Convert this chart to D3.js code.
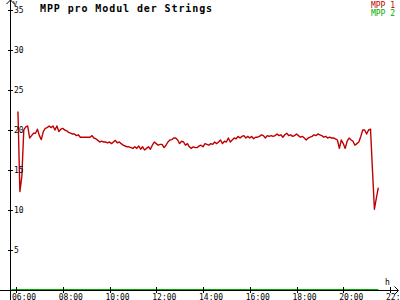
<!DOCTYPE html>
<html>
<head>
<meta charset="utf-8">
<script src="https://cdn.jsdelivr.net/npm/d3@7"></script>
<style>
  body { margin: 0; background: #fff; }
  svg { display: block; }
  text { font-family: "DejaVu Sans Mono", "Liberation Mono", monospace; }
</style>
</head>
<body>
<svg width="400" height="300"></svg>
<script>
// MPP 1 readings, one every 5 minutes from 06:05
const mpp1Start = "06:05";
const stepMinutes = 5;
const mpp1Values = [
  22.3, 12.3, 14.2, 20.0, 20.4, 20.5, 19.0, 19.3, 19.6, 19.6,
  20.1, 19.3, 18.8, 19.8, 20.2, 20.3, 20.5, 20.3, 20.5, 20.0,
  20.5, 19.8, 20.1, 20.2, 20.0, 19.9, 19.7, 19.6, 19.5, 19.5,
  19.3, 19.4, 19.1, 19.1, 19.1, 19.1, 19.1, 19.1, 19.3, 19.0, 18.9,
  18.7, 18.5, 18.6, 18.5, 18.5, 18.4, 18.5, 18.3, 18.5, 18.7,
  18.4, 18.5, 18.3, 18.1, 18.0, 17.9, 17.9, 17.8, 17.7, 17.9,
  17.7, 18.0, 17.6, 17.9, 17.5, 17.7, 17.9, 17.6, 18.1, 18.5,
  18.3, 18.1, 18.2, 18.2, 17.8, 18.1, 18.5, 18.75, 18.8, 19.0,
  19.0, 18.75, 18.3, 18.6, 18.5, 18.1, 18.3, 17.9, 17.7, 17.9, 17.8,
  17.8, 18.0, 18.1, 17.9, 18.3, 18.2, 18.1, 18.3, 18.2, 18.5,
  18.3, 18.5, 18.75, 18.3, 18.6, 18.5, 19.0, 18.5, 18.75, 19.0,
  18.9, 19.2, 19.0, 19.2, 19.3, 19.0, 19.2, 19.0, 19.2, 18.9,
  19.1, 19.1, 19.2, 19.4, 19.3, 19.0, 19.3, 19.2, 19.3, 19.2, 19.3,
  19.5, 19.3, 19.4, 19.1, 19.4, 19.6, 19.3, 19.4, 19.2, 19.3,
  19.5, 19.3, 19.1, 19.2, 19.0, 18.75, 19.0, 19.1, 19.2, 19.4,
  19.3, 19.5, 19.4, 19.3, 19.1, 19.2, 19.0, 19.1, 19.0, 19.0, 18.9,
  18.75, 17.7, 18.75, 18.3, 17.7, 18.6, 19.0, 18.75, 18.6, 18.1,
  18.3, 18.5, 19.2, 20.0, 20.0, 19.5, 20.0, 20.1, 15.0, 10.1,
  11.5, 12.8
];

// MPP 2 stays at zero all day
const mpp2Times = ["05:48", "21:30"];
const mpp2Values = [0, 0];

const yTicks = [5, 10, 15, 20, 25, 30, 35];
const xTickHours = [6, 8, 10, 12, 14, 16, 18, 20, 22];
const seriesNames = ["MPP 1", "MPP 2"];
const seriesColors = ["#c00000", "#00aa00"];

const parseTime = d3.timeParse("%H:%M");
const day = t => parseTime(t);

const mpp1 = mpp1Values.map((v, i) => ({
  t: d3.timeMinute.offset(day(mpp1Start), i * stepMinutes),
  v: v
}));
const mpp2 = mpp2Values.map((v, i) => ({ t: day(mpp2Times[i]), v: v }));

const svg = d3.select("svg");
const axisX0 = 10;   // y axis position
const axisY0 = 290;  // x axis position

const x = d3.scaleTime()
  .domain([day("06:00"), day("22:00")])
  .range([16, 390]);

const y = d3.scaleLinear()
  .domain([0, 35])
  .range([axisY0, 10]);

// series lines
const line = d3.line()
  .x(d => x(d.t))
  .y(d => y(d.v));

svg.append("path")
  .datum(mpp2)
  .attr("fill", "none")
  .attr("stroke", seriesColors[1])
  .attr("stroke-width", 2)
  .attr("d", line);

svg.append("path")
  .datum(mpp1)
  .attr("fill", "none")
  .attr("stroke", seriesColors[0])
  .attr("stroke-width", 1.4)
  .attr("stroke-linejoin", "round")
  .attr("d", line);

// Axis lines with arrows
const axes = svg.append("g")
  .attr("stroke", "#000")
  .attr("stroke-width", 1)
  .attr("fill", "none")
  .attr("shape-rendering", "crispEdges");

axes.append("line")
  .attr("x1", 0).attr("x2", 398)
  .attr("y1", axisY0 + 0.5).attr("y2", axisY0 + 0.5);
axes.append("path")
  .attr("shape-rendering", "auto")
  .attr("d", `M394.5,${axisY0 - 3.5}L398.5,${axisY0 + 0.5}L394.5,${axisY0 + 4.5}`);

axes.append("line")
  .attr("x1", axisX0 + 0.5).attr("x2", axisX0 + 0.5)
  .attr("y1", 0).attr("y2", 300);
axes.append("path")
  .attr("shape-rendering", "auto")
  .attr("d", `M${axisX0 - 3.5},4L${axisX0 + 0.5},0L${axisX0 + 4.5},4`);

// X ticks
const xAxis = svg.append("g")
  .attr("transform", `translate(0,${axisY0})`)
  .call(d3.axisBottom(x)
    .tickValues(xTickHours.map(h => d3.timeHour.offset(day("00:00"), h)))
    .tickFormat(d3.timeFormat("%H:%M"))
    .tickSize(3));
xAxis.select(".domain").remove();
xAxis.selectAll(".tick line")
  .attr("y1", -3).attr("y2", 3)
  .attr("shape-rendering", "crispEdges");
xAxis.selectAll(".tick text")
  .attr("text-anchor", "start")
  .attr("x", -4.5)
  .attr("y", 4)
  .attr("dy", "0.71em")
  .style("font-size", "8px")
  .attr("fill", "#000");

// Y ticks
const yAxis = svg.append("g")
  .attr("transform", `translate(${axisX0},0)`)
  .call(d3.axisRight(y).tickValues(yTicks).tickSize(3));
yAxis.select(".domain").remove();
yAxis.selectAll(".tick line")
  .attr("x1", -2).attr("x2", 3)
  .attr("shape-rendering", "crispEdges");
yAxis.selectAll(".tick text")
  .attr("x", 4)
  .style("font-size", "8px")
  .attr("fill", "#000");

// Unit labels
svg.append("text")
  .attr("x", 13).attr("y", 6)
  .style("font-size", "7px")
  .text("V");
svg.append("text")
  .attr("x", 385).attr("y", 285)
  .style("font-size", "8px")
  .text("h");

// Title
svg.append("text")
  .attr("x", 40).attr("y", 12)
  .style("font-size", "10px")
  .style("font-weight", "bold")
  .style("letter-spacing", "0.9px")
  .text("MPP pro Modul der Strings");

// Legend
svg.selectAll(".legend")
  .data(seriesNames)
  .enter().append("text")
  .attr("class", "legend")
  .attr("x", 395)
  .attr("y", (d, i) => 8 + i * 8)
  .attr("text-anchor", "end")
  .style("font-size", "8px")
  .attr("fill", (d, i) => seriesColors[i])
  .text(d => d);
</script>
</body>
</html>
